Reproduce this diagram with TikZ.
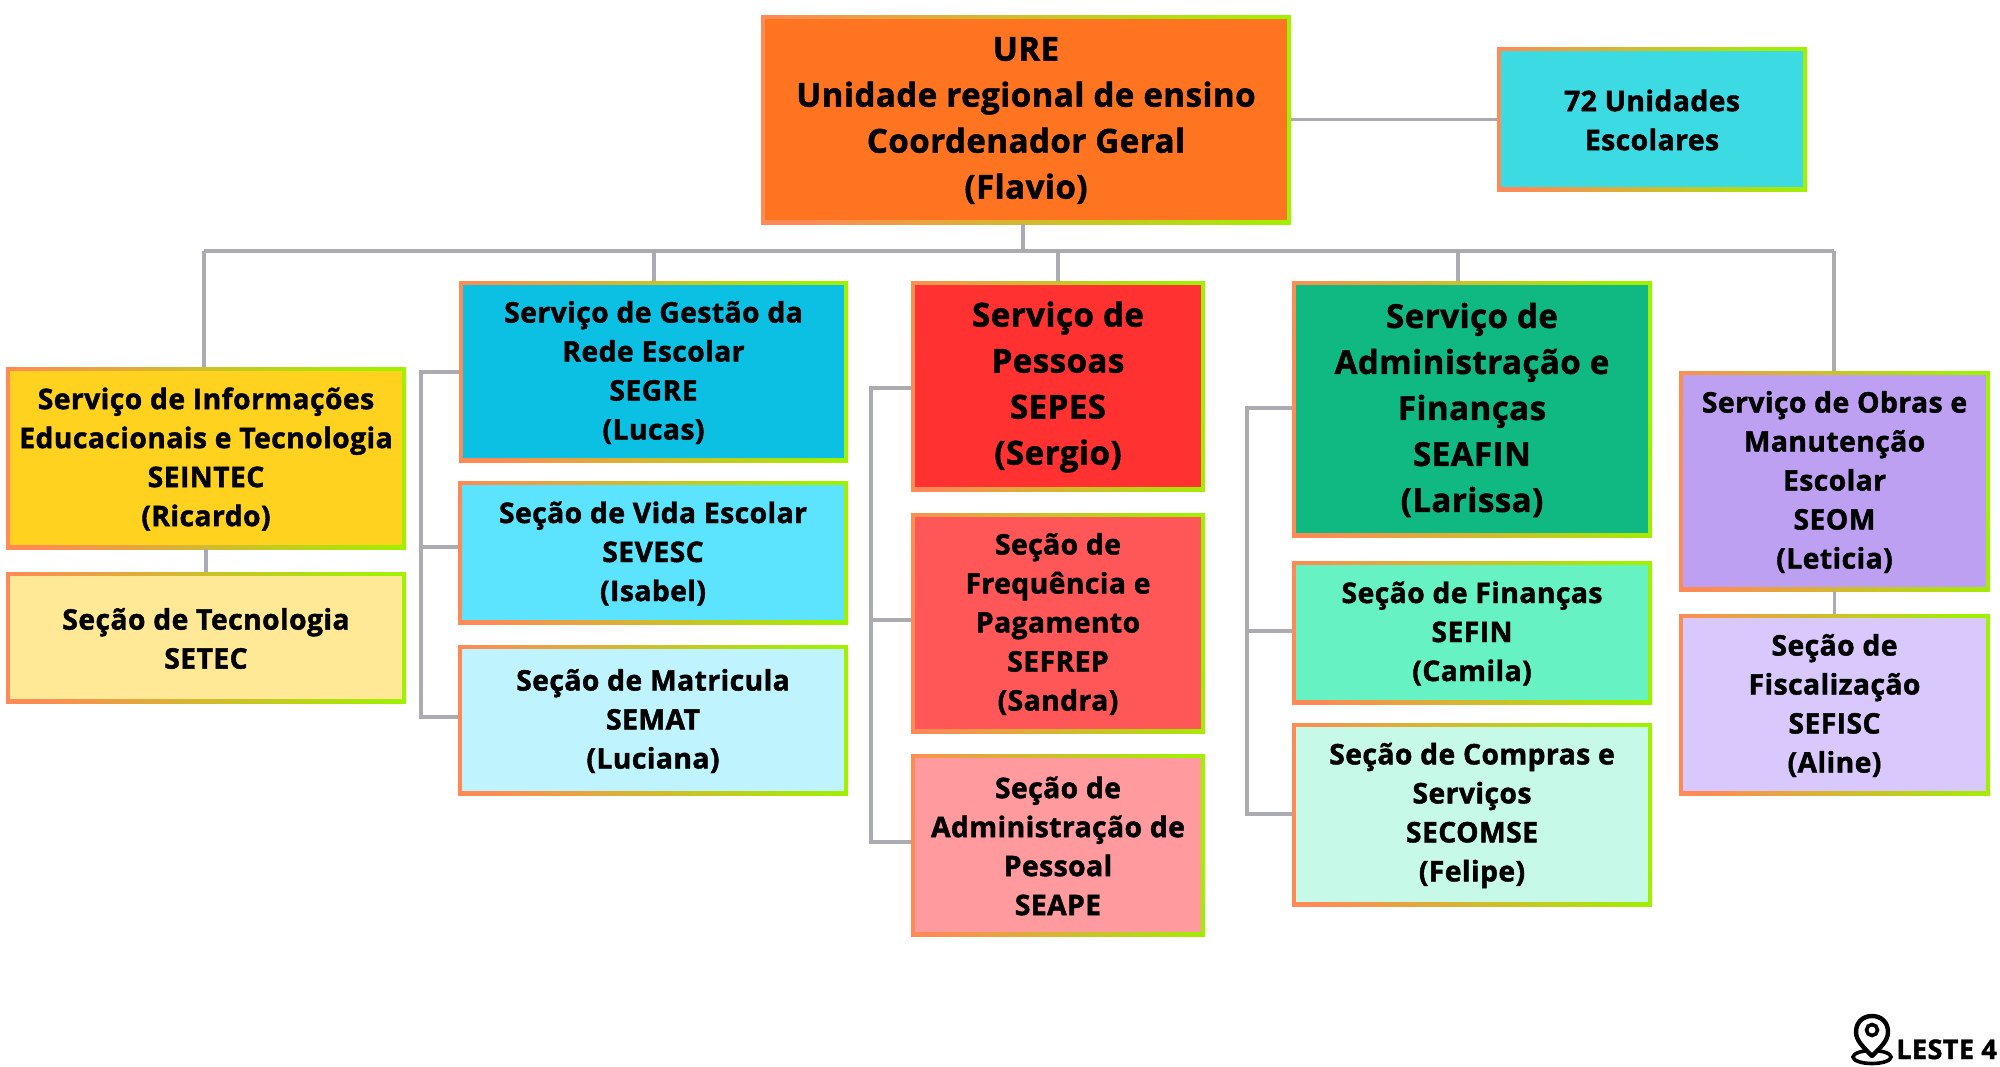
\documentclass[tikz,border=0pt]{standalone}
\usepackage{fontspec}
\setmainfont{Open Sans}[BoldFeatures={FakeBold=1.5,LetterSpace=1.5}]
\usetikzlibrary{calc}
\definecolor{gA}{HTML}{FF8A55}
\definecolor{gB}{HTML}{FFE01E}
\definecolor{gC}{HTML}{A0F000}
\definecolor{line}{HTML}{ABABB2}
\tikzset{
  orgbox/.style={rectangle,inner sep=0pt,outer sep=0pt,
    path picture={
      \shade[left color=gA,middle color=gB,right color=gC,shading angle=100]
        (path picture bounding box.south west) rectangle (path picture bounding box.north east);
      \fill[#1] ($(path picture bounding box.south west)+(4pt,4pt)$) rectangle ($(path picture bounding box.north east)+(-4pt,-4pt)$);
    }},
  orgtext/.style={inner sep=0pt,align=center,text=black},
  conn/.style={draw=line,line width=3.6pt,line cap=butt,line join=miter},
}
\newcommand{\obx}[9]{%
  \node[orgbox=#6,minimum width={(#4-#2)*1pt},minimum height={(#5-#3)*1pt}] (#1) at ({(#2+#4)/2},{(#3+#5)/2}) {};
  \node[orgtext,font={\fontsize{#7}{#8}\selectfont\bfseries}] (#1t) at ([yshift=-1pt]#1.center) {#9};}
\begin{document}
\begin{tikzpicture}[x=1pt,y=-1pt]
\useasboundingbox (0,0) rectangle (2000,1066);
\fill[white] (0,0) rectangle (2000,1066);
\definecolor{cURE}{HTML}{FF7420}
\definecolor{cUN}{HTML}{3CDBE3}
\definecolor{cSI}{HTML}{FFD21F}
\definecolor{cST}{HTML}{FFE997}
\definecolor{cSG}{HTML}{0CC0E3}
\definecolor{cSV}{HTML}{5CE4FF}
\definecolor{cSM}{HTML}{BFF4FF}
\definecolor{cSP}{HTML}{FF3131}
\definecolor{cSF}{HTML}{FF5757}
\definecolor{cSA}{HTML}{FF9A9E}
\definecolor{cSE}{HTML}{10B981}
\definecolor{cFI}{HTML}{66F2C2}
\definecolor{cCO}{HTML}{C6F9E8}
\definecolor{cSO}{HTML}{BDA0F2}
\definecolor{cFS}{HTML}{D8C8FB}
\obx{ure}{761}{15}{1291}{224}{cURE}{33}{46}{URE\\Unidade regional de ensino\\Coordenador Geral\\(Flavio)}
\obx{unid}{1497}{47}{1807}{191}{cUN}{28.3}{39}{72 Unidades\\Escolares}
\obx{seintec}{6}{367}{406}{549}{cSI}{28.3}{39}{Serviço de Informações\\Educacionais e Tecnologia\\SEINTEC\\(Ricardo)}
\obx{setec}{6}{572}{406}{703}{cST}{28.3}{39}{Seção de Tecnologia\\SETEC}
\obx{segre}{459}{281}{848}{462}{cSG}{28.3}{39}{Serviço de Gestão da\\Rede Escolar\\SEGRE\\(Lucas)}
\obx{sevesc}{458}{481}{848}{624}{cSV}{28.3}{39}{Seção de Vida Escolar\\SEVESC\\(Isabel)}
\obx{semat}{458}{645}{848}{795}{cSM}{28.3}{39}{Seção de Matricula\\SEMAT\\(Luciana)}
\obx{sepes}{911}{281}{1205}{491}{cSP}{33}{46}{Serviço de\\Pessoas\\SEPES\\(Sergio)}
\obx{sefrep}{911}{513}{1205}{733}{cSF}{28.3}{39}{Seção de\\Frequência e\\Pagamento\\SEFREP\\(Sandra)}
\obx{seape}{911}{754}{1205}{936}{cSA}{28.3}{39}{Seção de\\Administração de\\Pessoal\\SEAPE}
\obx{seafin}{1292}{281}{1652}{537}{cSE}{33}{46}{Serviço de\\Administração e\\Finanças\\SEAFIN\\(Larissa)}
\obx{sefin}{1292}{561}{1652}{704}{cFI}{28.3}{39}{Seção de Finanças\\SEFIN\\(Camila)}
\obx{secomse}{1292}{723}{1652}{906}{cCO}{28.3}{39}{Seção de Compras e\\Serviços\\SECOMSE\\(Felipe)}
\obx{seom}{1679}{371}{1990}{591}{cSO}{28.3}{39}{Serviço de Obras e\\Manutenção\\Escolar\\SEOM\\(Leticia)}
\obx{sefisc}{1679}{614}{1990}{795}{cFS}{28.3}{39}{Seção de\\Fiscalização\\SEFISC\\(Aline)}
% connectors
\coordinate (bus) at (1023,251);
\coordinate (d1) at (204,251);
\coordinate (d2) at (654,251);
\coordinate (d3) at (1058,251);
\coordinate (d4) at (1458,251);
\coordinate (d5) at (1834,251);
\coordinate (sa1) at (421,372);
\coordinate (sa2) at (421,547);
\coordinate (sa3) at (421,717);
\coordinate (sb1) at (871,388);
\coordinate (sb2) at (871,620);
\coordinate (sb3) at (871,842);
\coordinate (sc1) at (1247,408);
\coordinate (sc2) at (1247,631);
\coordinate (sc3) at (1247,814);
\draw[conn] (ure.east) -- (unid.west |- ure.east);
\draw[conn] (bus |- ure.south) -- (bus);
\draw[conn] (d1) -- (d5);
\draw[conn] (d1) -- (d1 |- seintec.north);
\draw[conn] (d2) -- (d2 |- segre.north);
\draw[conn] (d3) -- (d3 |- sepes.north);
\draw[conn] (d4) -- (d4 |- seafin.north);
\draw[conn] (d5) -- (d5 |- seom.north);
\draw[conn] (seintec.south) -- (setec.north);
\draw[conn] (seom.south) -- (sefisc.north);
\draw[conn] (segre.west |- sa1) -- (sa1) -- (sa3) -- (semat.west |- sa3);
\draw[conn] (sa2) -- (sevesc.west |- sa2);
\draw[conn] (sepes.west |- sb1) -- (sb1) -- (sb3) -- (seape.west |- sb3);
\draw[conn] (sb2) -- (sefrep.west |- sb2);
\draw[conn] (seafin.west |- sc1) -- (sc1) -- (sc3) -- (secomse.west |- sc3);
\draw[conn] (sc2) -- (sefin.west |- sc2);
% logo
\draw[black,line width=3.6pt,fill=white] (1872,1057) ellipse (19pt and 6.5pt);
\draw[black,line width=4.4pt,fill=white,line join=round] (1872,1056) .. controls (1862,1046) and (1856,1040) .. (1856,1032) .. controls (1856,1022) and (1863,1016) .. (1872,1016) .. controls (1881,1016) and (1888,1022) .. (1888,1032) .. controls (1888,1040) and (1882,1046) .. (1872,1056) -- cycle;
\draw[black,line width=3.6pt] (1872,1030) circle (5.5pt);
\node[anchor=base east,inner sep=0pt,font={\fontsize{27}{30}\selectfont\bfseries}] (logo) at (1997,1059) {LESTE 4};
\end{tikzpicture}
\end{document}
